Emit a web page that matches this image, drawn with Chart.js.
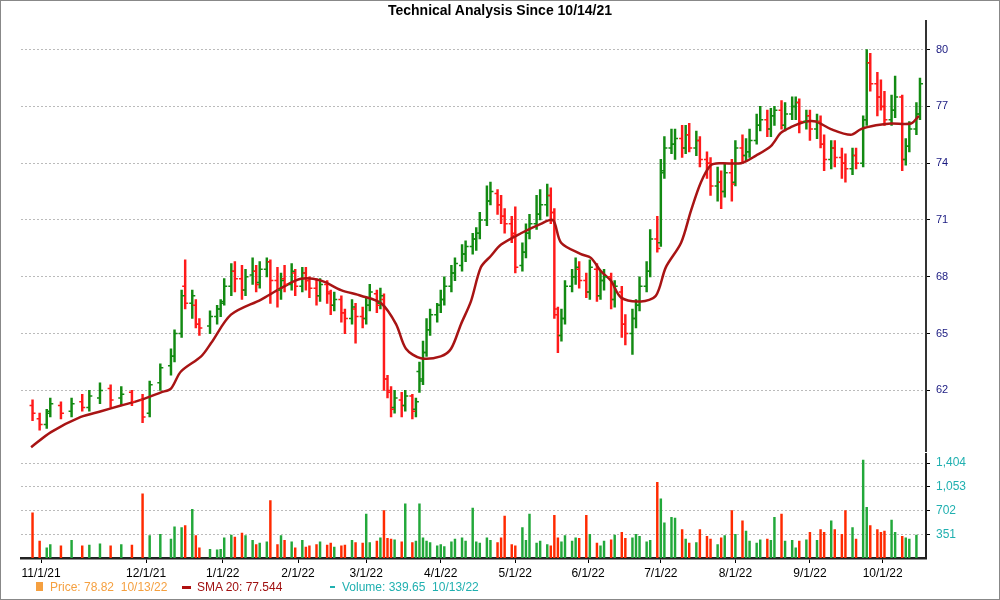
<!DOCTYPE html>
<html>
<head>
<meta charset="utf-8">
<script src="https://cdn.jsdelivr.net/npm/chart.js@4"></script>
<style>
  body { margin: 0; font-family: "Liberation Sans", Arial, sans-serif; }
  #frame { position: relative; width: 998px; height: 598px; border: 1px solid #888; overflow: hidden; background: #fff; }
  #title { position: absolute; top: 1px; left: 0; width: 100%; text-align: center; font-weight: bold; font-size: 14px; z-index: 2; }
  #priceBox { position: absolute; left: 0; top: 7px; width: 1000px; height: 456px; }
  #volBox { position: absolute; left: 0; top: 440px; width: 1000px; height: 142px; }
  #legend { position: absolute; top: 579px; left: 0; font-size: 12px; white-space: nowrap; }
  #legend span { position: absolute; }
</style>
</head>
<body>
<div id="frame">
  <div id="title">Technical Analysis Since 10/14/21</div>
  <div id="priceBox"><canvas id="priceChart"></canvas></div>
  <div id="volBox"><canvas id="volChart"></canvas></div>
  <div id="legend">
    <span style="left:35px;top:2px;width:7px;height:9px;background:#f5a040"></span>
    <span style="left:49px;color:#f5a040">Price: 78.82&nbsp; 10/13/22</span>
    <span style="left:181px;top:6px;width:9px;height:3px;background:#b01010"></span>
    <span style="left:196px;color:#a01010">SMA 20: 77.544</span>
    <span style="left:329px;top:6px;width:5px;height:2px;background:#20b0b0"></span>
    <span style="left:341px;color:#20b0b0">Volume: 339.65&nbsp; 10/13/22</span>
  </div>
</div>
<script>
// ============================
// Data (trading day index from 10/14/21)
// ============================
const days = [1,3,5,6,9,12,15,17,20,23,26,29,32,34,37,40,41,43,44,46,47,48,51,53,54,55,57,58,60,61,63,64,65,67,68,70,71,72,74,75,77,78,79,81,82,84,85,86,88,89,91,92,94,95,96,98,99,100,101,102,103,105,106,108,109,110,111,112,113,115,116,117,119,120,122,123,125,126,127,129,130,132,133,134,136,137,139,140,141,143,144,146,147,148,149,150,151,153,154,155,157,158,160,161,162,164,165,167,168,170,171,172,174,175,177,178,179,181,182,184,185,186,188,189,191,192,194,195,196,198,199,201,202,203,205,206,208,209,210,212,213,215,216,217,219,220,222,223,224,226,227,229,230,232,233,235,236,237,239,240,241,243,244,246,247,248,250,251];
const opens = [61.2,60.5,60.2,60.9,61.2,60.9,61.4,61.1,61.6,62.1,61.6,61.9,61.5,60.8,62.4,63.3,63.8,65.0,67.5,66.6,66.5,65.5,65.4,65.9,66.3,66.7,67.5,68.3,67.9,67.3,68.1,68.3,67.7,68.4,68.8,67.8,67.3,67.9,67.6,68.2,67.5,68.2,67.8,67.4,67.0,67.6,67.1,66.5,66.8,66.1,65.8,66.3,65.9,65.8,66.5,67.1,66.6,66.8,62.6,61.9,61.1,61.5,61.2,61.7,61.0,63.0,62.6,64.0,65.2,66.0,66.5,66.8,67.5,68.2,68.6,69.2,69.6,70.0,70.3,71.0,72.0,72.4,71.8,71.2,70.8,70.2,68.6,69.3,70.3,70.8,71.3,71.8,72.3,71.4,66.0,64.9,65.8,67.5,68.0,68.4,67.8,67.2,68.4,67.0,67.8,68.0,66.8,67.2,65.5,65.0,65.8,66.5,67.5,68.3,70.0,69.8,73.6,74.8,75.0,75.3,74.8,75.5,74.8,75.2,74.2,74.0,72.8,73.0,72.5,73.5,73.0,74.8,74.4,74.6,75.2,76.0,76.3,75.8,76.5,76.8,76.0,76.6,77.0,77.2,76.2,76.5,75.8,76.2,75.0,74.2,74.8,74.3,74.0,73.7,74.4,74.0,76.3,79.3,78.2,77.5,77.0,76.3,76.8,77.5,74.2,74.9,75.8,76.6];
const highs = [61.5,60.8,61.0,61.6,61.4,61.6,61.8,62.0,62.4,62.3,62.2,62.0,61.8,62.5,63.4,64.2,65.2,67.3,68.9,67.3,66.8,65.8,66.2,66.5,66.8,67.9,68.7,68.8,68.6,68.4,69.0,68.6,68.8,69.0,68.9,68.5,68.2,68.6,68.7,68.4,68.5,68.5,68.0,67.9,67.9,67.8,67.3,67.2,67.0,66.3,66.8,66.6,66.4,66.9,67.6,67.3,67.4,67.1,62.8,62.2,62.0,61.9,62.0,61.8,61.6,63.5,64.6,65.8,66.3,66.6,67.3,68.0,68.6,69.0,69.7,69.9,70.3,70.6,71.4,72.8,73.0,72.6,72.3,71.6,71.2,71.7,69.8,70.8,71.3,72.3,72.6,72.9,72.7,71.6,66.4,66.3,67.8,68.4,69.0,68.8,68.2,68.9,68.7,68.3,68.4,68.2,67.8,67.5,66.0,66.3,66.8,68.0,68.8,70.5,71.2,74.2,75.4,75.8,75.8,76.0,76.0,76.1,75.7,75.4,74.6,74.3,73.8,73.6,74.0,74.2,75.2,75.5,75.3,75.8,76.6,77.0,76.8,76.9,77.0,77.3,77.2,77.5,77.5,77.4,76.8,76.8,76.6,76.5,75.5,75.2,75.2,74.8,74.5,74.8,74.8,76.5,80.0,79.8,78.8,78.4,77.8,77.6,78.6,77.6,75.3,76.2,77.2,78.5];
const lows = [60.4,59.9,60.0,60.6,60.5,60.6,60.9,60.9,61.3,61.1,61.2,61.2,60.3,60.6,62.0,62.8,63.5,64.8,66.3,65.8,65.3,64.9,65.0,65.5,65.9,66.5,67.0,67.2,66.8,67.0,67.6,67.2,67.4,68.0,66.6,66.4,66.8,67.2,67.3,67.0,67.2,67.3,66.9,66.5,66.7,66.6,66.0,66.2,65.6,65.0,65.5,64.5,65.3,65.5,66.2,66.1,66.3,62.0,61.6,60.6,60.8,60.6,60.9,60.5,60.6,61.9,62.3,63.8,64.9,65.6,66.1,66.5,67.2,67.8,68.3,68.8,69.2,69.4,70.0,70.7,71.8,71.3,70.8,70.3,69.8,68.2,68.3,69.0,70.0,70.5,71.0,71.2,70.8,65.8,64.0,64.6,65.5,67.2,67.6,67.4,66.9,66.8,66.7,66.8,67.3,66.3,66.4,64.8,64.4,63.9,65.3,66.2,67.2,68.0,69.3,69.6,73.2,74.5,74.2,74.3,74.5,74.6,74.4,73.8,73.2,72.3,72.0,71.6,72.2,72.0,72.8,74.0,74.1,74.3,75.0,75.7,75.4,75.4,76.0,75.8,75.7,76.3,76.3,75.6,75.8,75.2,75.3,74.8,73.6,73.7,73.8,73.2,73.0,73.4,73.7,73.8,76.0,77.8,76.5,76.8,76.0,76.0,76.4,73.6,73.9,74.6,75.5,76.3];
const closes = [60.8,60.2,60.8,61.3,60.8,61.3,61.1,61.7,62.0,61.5,61.8,61.4,60.6,62.3,63.2,63.8,65.0,67.0,66.6,67.0,65.5,65.3,65.9,66.3,66.6,67.5,68.3,67.9,67.3,68.0,68.3,67.6,68.4,68.8,67.8,67.3,67.8,67.6,68.3,67.5,68.2,67.8,67.4,67.0,67.6,67.2,66.5,66.8,66.1,65.8,66.4,65.9,65.8,66.5,67.2,66.5,67.0,62.6,62.0,61.0,61.6,61.2,61.7,60.9,61.4,62.5,64.0,65.2,66.0,66.5,66.8,67.5,68.2,68.7,69.2,69.6,70.0,70.3,71.0,72.0,72.5,71.8,71.2,70.8,70.3,68.5,69.3,70.3,70.8,71.3,71.8,72.3,71.4,66.3,64.9,65.8,67.5,68.0,68.5,67.8,67.2,68.5,67.0,67.8,68.0,66.8,67.5,65.5,65.0,65.8,66.5,67.5,68.3,70.0,69.5,73.5,74.8,75.0,75.3,74.8,75.5,74.8,75.2,74.2,74.0,72.8,73.0,72.5,73.5,72.9,74.8,74.4,74.6,75.2,76.0,76.3,75.8,76.5,76.8,76.0,76.6,77.0,77.2,76.2,76.5,75.8,76.2,75.0,74.2,74.8,74.3,74.0,73.7,74.4,74.0,76.3,79.3,78.2,77.5,77.0,76.3,76.8,77.5,74.2,74.9,75.8,76.6,78.2];
const volumes = [670,250,150,200,180,260,180,190,210,180,200,190,950,330,350,280,460,450,480,720,330,150,130,120,130,300,340,310,370,330,260,200,220,240,850,200,330,260,240,150,260,160,180,200,240,190,220,160,180,190,260,230,220,650,230,250,300,700,290,280,270,240,800,230,250,800,300,250,230,180,200,170,240,280,300,250,740,240,220,300,260,230,300,620,200,180,450,260,650,220,250,200,180,630,300,240,330,250,300,290,630,350,220,180,250,270,340,380,290,300,350,320,240,260,1120,875,520,600,590,420,280,220,230,420,320,280,200,300,330,700,350,550,400,250,220,270,280,260,600,650,250,260,150,250,270,380,260,420,380,550,420,350,700,450,280,1450,750,480,420,380,400,560,380,320,300,280,340];

const smaDays = [0.6,6.2,14.6,20.3,25.9,31.5,37.2,40,42.8,48.5,51.3,56.9,65.4,71,76.6,82.3,87.9,93.5,99.2,103.4,106.2,110.4,116,118.9,121.7,124.5,127.3,130.1,133,138.6,144.2,147.6,149.9,155.5,158.3,161.1,163.9,166.8,172.4,176.6,179.4,183.7,186.5,189.3,192.1,194.9,200.6,204.8,209,211.8,214.6,218.9,221.7,225.9,231.5,234.4,238.6,242.8,248.5,250.7];
const smaValues = [59.0,59.8,60.6,60.9,61.2,61.5,61.9,62.1,63.0,63.8,64.5,66.0,66.8,67.4,67.9,67.8,67.3,67.0,66.6,65.5,64.2,63.7,63.8,64.2,65.5,66.7,68.5,69.1,69.7,70.3,70.8,71.0,69.8,69.2,69.0,68.3,67.8,66.9,66.7,67.0,68.5,69.8,71.5,73.0,73.9,74.0,74.0,74.4,74.9,75.6,75.9,76.2,76.2,75.8,75.5,75.8,76.0,76.1,76.1,76.5];

const priceTicks = [62, 65, 68, 71, 74, 77, 80];
const volumeTicks = [351, 702, 1053, 1404];
const monthPos = [3.4, 33, 54.6, 75.8, 95, 116, 137, 157.5, 178, 199, 220, 240.5];
const monthLabels = ["11/1/21", "12/1/21", "1/1/22", "2/1/22", "3/1/22", "4/1/22", "5/1/22", "6/1/22", "7/1/22", "8/1/22", "9/1/22", "10/1/22"];

const X_MIN = -2.25, X_MAX = 252.7;

const upDown = closes.map((c, i) => (i === 0 ? c >= opens[0] : c >= closes[i - 1]));
const priceColors = upDown.map((u) => (u ? "#128a12" : "#ff1a1a"));
const volColors = upDown.map((u) => (u ? "#22a83a" : "#ff2a00"));

// ============================
// Plugin: open/close ticks
// ============================
const ohlcTicks = {
  id: "ohlcTicks",
  afterDatasetsDraw(chart) {
    const ctx = chart.ctx;
    const xs = chart.scales.x;
    const ys = chart.scales.y;
    ctx.save();
    ctx.lineWidth = 1.5;
    days.forEach((d, i) => {
      const px = xs.getPixelForValue(d);
      ctx.strokeStyle = priceColors[i];
      ctx.beginPath();
      ctx.moveTo(px - 3, ys.getPixelForValue(opens[i]));
      ctx.lineTo(px, ys.getPixelForValue(opens[i]));
      ctx.moveTo(px, ys.getPixelForValue(closes[i]));
      ctx.lineTo(px + 3, ys.getPixelForValue(closes[i]));
      ctx.stroke();
    });
    ctx.restore();
  },
};

function rightAxisFit(scale) {
  scale.width = 75;
}

const xBase = {
  type: "linear",
  min: X_MIN,
  max: X_MAX,
  offset: false,
  grid: { offset: false },
};

new Chart(document.getElementById("priceChart"), {
  type: "bar",
  data: {
    datasets: [
      {
        type: "line",
        data: smaDays.map((d, i) => ({ x: d, y: smaValues[i] })),
        borderColor: "#a81414",
        borderWidth: 2.5,
        pointRadius: 0,
        tension: 0.3,
        order: 0,
      },
      {
        data: days.map((d, i) => ({ x: d, y: [lows[i], highs[i]] })),
        backgroundColor: priceColors,
        barThickness: 1.8,
        order: 1,
      },
    ],
  },
  options: {
    responsive: true,
    maintainAspectRatio: false,
    animation: false,
    layout: { autoPadding: false, padding: { left: 20, top: 0, bottom: 0, right: 0 } },
    plugins: { legend: { display: false }, tooltip: { enabled: false } },
    scales: {
      x: { ...xBase, display: false },
      y: {
        position: "right",
        min: 58.78,
        max: 81.53,
        afterFit: rightAxisFit,
        afterBuildTicks: (s) => { s.ticks = priceTicks.map((v) => ({ value: v })); },
        ticks: { color: "#1a1a80", font: { size: 11 }, padding: 6 },
        grid: { color: "#bbbbbb", tickColor: "#000", tickLength: 4 },
        border: { display: true, color: "#333", width: 2, dash: [2, 2] },
      },
    },
  },
  plugins: [ohlcTicks],
});

new Chart(document.getElementById("volChart"), {
  type: "bar",
  data: {
    datasets: [
      {
        data: days.map((d, i) => ({ x: d, y: volumes[i] })),
        backgroundColor: volColors,
        barThickness: 1.8,
      },
    ],
  },
  options: {
    responsive: true,
    maintainAspectRatio: false,
    animation: false,
    layout: { autoPadding: false, padding: { left: 20, top: 0, bottom: 0, right: 0 } },
    plugins: { legend: { display: false }, tooltip: { enabled: false } },
    scales: {
      x: {
        ...xBase,
        afterBuildTicks: (s) => { s.ticks = monthPos.map((v) => ({ value: v })); },
        afterFit: (s) => { s.height = 25; },
        ticks: {
          color: "#000",
          font: { size: 12 },
          maxRotation: 0,
          autoSkip: false,
          callback: (v) => monthLabels[monthPos.indexOf(v)],
        },
        grid: { offset: false, drawOnChartArea: false, tickColor: "#000", tickLength: 5 },
        border: { display: true, color: "#222", width: 2.5 },
      },
      y: {
        position: "right",
        min: 0,
        max: 1536,
        afterFit: rightAxisFit,
        afterBuildTicks: (s) => { s.ticks = volumeTicks.map((v) => ({ value: v })); },
        ticks: { color: "#20b0b0", font: { size: 12 }, padding: 6, callback: (v) => v.toLocaleString("en-US") },
        grid: { color: "#bbbbbb", tickColor: "#000", tickLength: 4 },
        border: { display: true, color: "#222", width: 2, dash: [2, 2] },
      },
    },
  },
});
</script>
</body>
</html>
